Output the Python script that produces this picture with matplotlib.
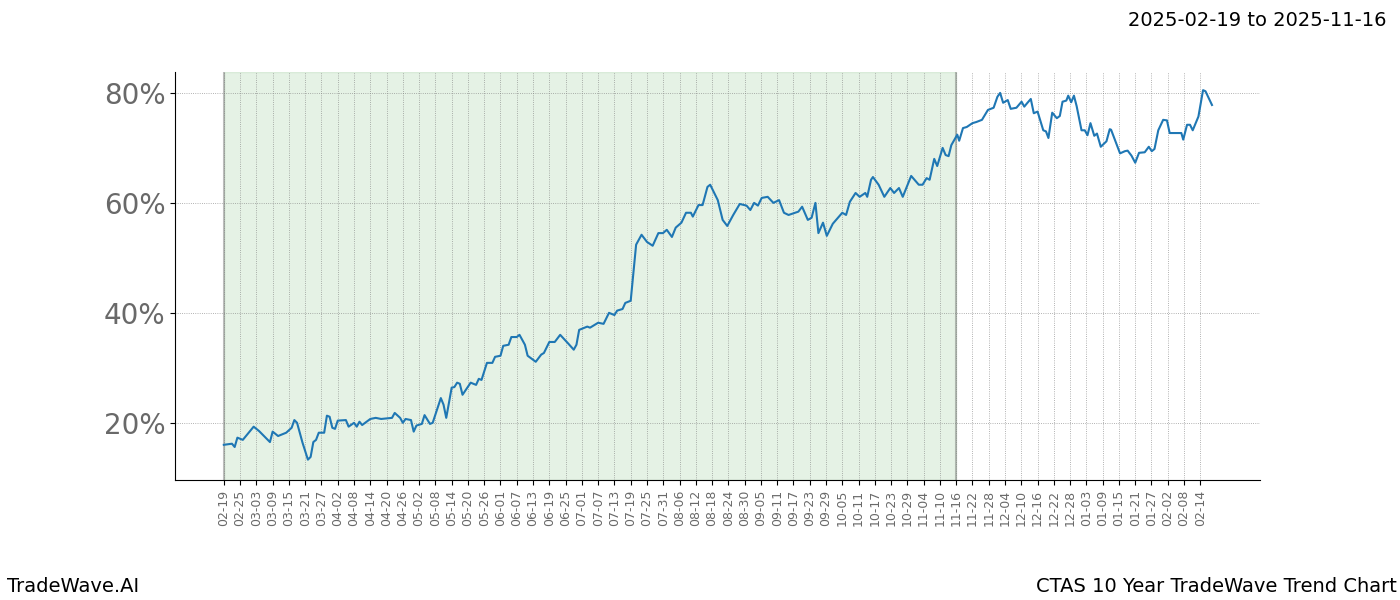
import matplotlib
matplotlib.use("Agg")
import matplotlib.pyplot as plt
import numpy as np
import pandas as pd

START = pd.Timestamp("2025-02-19")
SHADE_END = pd.Timestamp("2025-11-16")

# days after 2025-02-19, and trend value in %
day_offsets = [
    0, 3, 4, 5, 7, 11, 13, 17, 18, 20, 23, 25, 26, 27, 29, 31, 32, 33, 34, 35,
    37, 38, 39, 40, 41, 42, 45, 46, 48, 49, 50, 51, 54, 56, 58, 62, 63, 65, 66, 67,
    69, 70, 71, 73, 74, 76, 77, 80, 81, 82, 84, 85, 86, 87, 88, 91, 93, 94, 95, 97,
    99, 100, 102, 103, 105, 106, 108, 109, 111, 112, 115, 117, 118, 120, 122, 124, 127, 129, 130, 131,
    134, 135, 138, 140, 142, 144, 145, 147, 148, 150, 151, 152, 154, 156, 158.1, 160.2, 161.9, 163.3, 165.2, 166.6,
    168.7, 170.4, 172.2, 172.9, 175.0, 176.5, 178.3, 179.3, 182.1, 183.9, 185.6, 187.8, 190.2, 192.7, 194.1, 195.5,
    196.9, 198.3, 200.5, 202.6, 204.7, 206.5, 208.2, 211.8, 213.2, 215.3, 216.7, 218.1, 219.2, 220.9, 222.3, 224.5,
    228.0, 229.4, 230.8, 232.9, 234.4, 236.5, 237.2, 238.6, 239.3, 241.4, 243.5, 245.7, 247.1, 248.9, 250.3, 253.4,
    256.2, 257.6, 259.1, 260.2, 261.9, 263.0, 265.0, 266.1, 267.2, 268.2, 270.4, 271.1, 272.5, 273.9, 276.0, 277.4,
    279.5, 281.7, 283.8, 285.2, 286.2, 287.3, 289.0, 290.1, 292.2,
    294.1, 295.1, 296.1, 297.5, 298.6, 300.0, 302.1, 303.1, 304.0, 305.4,
    307.1, 308.2, 309.2, 310.6, 311.3, 312.4, 313.4, 314.4, 316.2, 317.4,
    318.4, 319.5, 320.9, 321.9, 323.3, 325.4, 326.6, 327.1, 330.4, 332.2,
    333.2, 334.6, 336.0, 337.4, 339.5, 341.0, 342.1, 343.1, 344.5, 346.3,
    347.7, 348.7, 350.6, 353.0, 353.7, 355.1, 356.2, 357.2, 359.3, 361.0,
    361.9, 364.3,
]
trend_values = [
    16.0, 16.2, 15.6, 17.3, 16.9, 19.3, 18.5, 16.5, 18.4, 17.6, 18.2, 19.1, 20.5, 20.0, 16.4, 13.3, 13.8, 16.5, 16.9, 18.2,
    18.2, 21.3, 21.1, 19.1, 18.9, 20.4, 20.5, 19.3, 20.0, 19.3, 20.2, 19.6, 20.7, 20.9, 20.7, 20.9, 21.8, 20.9, 20.0, 20.7,
    20.5, 18.4, 19.5, 19.8, 21.4, 19.8, 20.0, 24.5, 23.3, 20.9, 26.4, 26.5, 27.3, 27.1, 25.1, 27.3, 26.9, 28.0, 27.8, 30.9,
    30.9, 32.0, 32.2, 34.0, 34.2, 35.6, 35.6, 36.0, 34.2, 32.2, 31.1, 32.4, 32.7, 34.7, 34.7, 36.0, 34.4, 33.3, 34.2, 36.9,
    37.5, 37.3, 38.2, 38.0, 40.0, 39.6, 40.4, 40.7, 41.8, 42.2, 47.3, 52.4, 54.2, 52.9, 52.2, 54.5, 54.5, 55.1, 53.8, 55.5,
    56.4, 58.2, 58.2, 57.5, 59.6, 59.6, 62.9, 63.3, 60.5, 56.9, 55.8, 57.8, 59.8, 59.5, 58.7, 60.0,
    59.5, 60.9, 61.1, 60.0, 60.5, 58.2, 57.8, 58.4, 59.3, 56.9, 57.3, 60.0, 54.5, 56.4, 54.0, 56.2,
    58.2, 57.8, 60.2, 61.8, 61.1, 61.8, 61.1, 64.2, 64.7, 63.3, 61.1, 62.7, 61.8, 62.7, 61.1, 64.9,
    63.3, 63.3, 64.5, 64.2, 68.0, 66.7, 70.0, 68.7, 68.5, 70.5, 72.4, 71.3, 73.6, 73.8, 74.5, 74.7,
    75.1, 76.9, 77.3, 79.3, 80.0, 78.2, 78.7, 77.1, 77.3,
    78.4, 77.5, 78.1, 78.9, 76.3, 76.6, 73.2, 73.0, 71.8, 76.4,
    75.4, 75.8, 78.4, 78.6, 79.5, 78.3, 79.5, 77.6, 73.2, 73.2,
    72.3, 74.5, 72.2, 72.6, 70.2, 71.2, 73.4, 73.3, 69.0, 69.4,
    69.5, 68.6, 67.3, 69.1, 69.2, 70.2, 69.4, 69.8, 73.2, 75.1,
    75.0, 72.7, 72.7, 72.7, 71.5, 74.2, 74.2, 73.2, 75.7, 80.5,
    80.3, 77.8,
]
dates = START + pd.to_timedelta(np.array(day_offsets), unit="D")
values = np.array(trend_values)

tick_dates = pd.date_range(START, "2026-02-14", freq="6D")

fig = plt.figure(figsize=(14, 6), dpi=100)
ax = fig.add_axes([0.125, 0.2, 0.775, 0.68])

ax.axvspan(START, SHADE_END, color="green", alpha=0.1, zorder=0)
ax.axvline(START, color="gray", alpha=0.5, linewidth=1.5)
ax.axvline(SHADE_END, color="gray", alpha=0.5, linewidth=1.5)
ax.plot(dates, values, color="#1f77b4", linewidth=1.5)

ax.set_xlim(START - pd.Timedelta(days=18), START + pd.Timedelta(days=382))
ax.set_ylim(9.6, 83.8)
ax.set_yticks([20, 40, 60, 80])
ax.set_yticklabels([f"{v}%" for v in [20, 40, 60, 80]])
ax.set_xticks(tick_dates)
ax.set_xticklabels([d.strftime("%m-%d") for d in tick_dates], rotation=90)
ax.tick_params(axis="y", labelsize=20, labelcolor="dimgray")
ax.tick_params(axis="x", labelsize=9, labelcolor="dimgray")
ax.grid(color="gray", linestyle=":", linewidth=0.6, alpha=0.8)
ax.spines["top"].set_visible(False)
ax.spines["right"].set_visible(False)

fig.text(0.99, 0.965, "2025-02-19 to 2025-11-16", ha="right", va="center", fontsize=14)
fig.text(0.005, 0.022, "TradeWave.AI", ha="left", va="center", fontsize=14)
fig.text(0.998, 0.022, "CTAS 10 Year TradeWave Trend Chart", ha="right", va="center", fontsize=14)

fig.savefig("out.png", dpi=100)
